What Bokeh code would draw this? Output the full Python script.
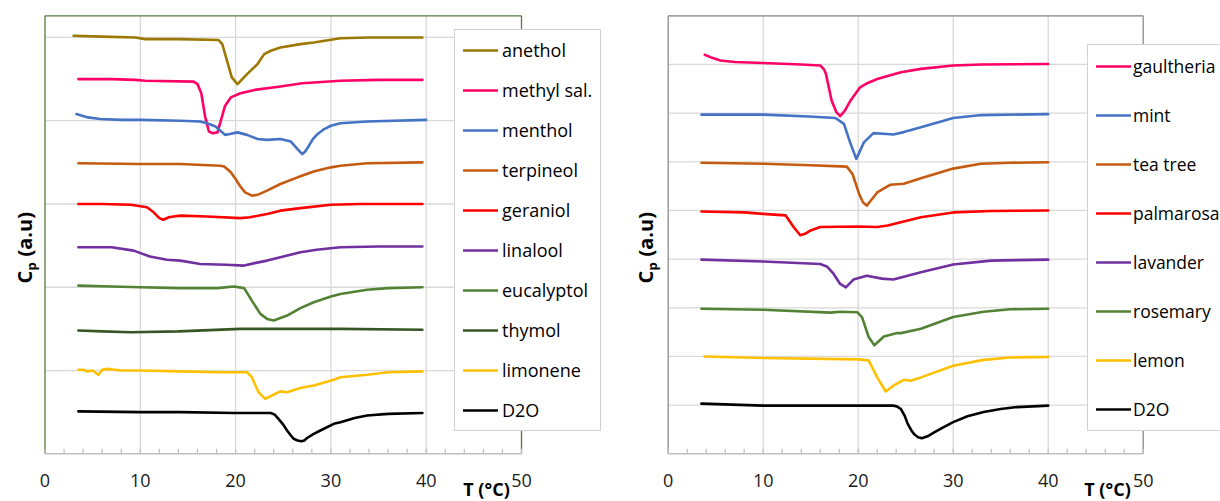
from math import pi

from bokeh.core.properties import value
from bokeh.embed import file_html
from bokeh.layouts import row
from bokeh.models import Label, Legend, LegendItem, Range1d
from bokeh.plotting import figure
from bokeh.resources import INLINE

# ---------------- left panel: pure compounds in D2O ----------------
anethol_t = [3.0, 6.0, 9.5, 10.5, 14.0, 18.2, 18.6, 19.1, 19.6, 20.2, 21.2, 22.3, 23.0, 23.7, 24.7, 26.8, 28.2, 31.0, 34.0, 39.6]
anethol_cp = [5.02, 5.01, 5.00, 4.98, 4.98, 4.97, 4.92, 4.72, 4.52, 4.44, 4.56, 4.68, 4.80, 4.84, 4.88, 4.92, 4.94, 4.99, 5.00, 5.00]

methyl_t = [3.5, 7.0, 9.5, 10.5, 15.6, 16.0, 16.4, 16.8, 17.2, 17.6, 18.1, 18.4, 18.9, 19.5, 20.5, 22.0, 24.7, 27.0, 31.0, 35.0, 39.6]
methyl_cp = [4.50, 4.50, 4.49, 4.48, 4.47, 4.44, 4.33, 4.05, 3.87, 3.85, 3.86, 3.98, 4.18, 4.28, 4.33, 4.37, 4.41, 4.45, 4.48, 4.49, 4.49]

menthol_t = [3.3, 4.5, 5.8, 8.0, 10.0, 14.2, 16.3, 17.0, 17.9, 18.4, 18.9, 19.4, 20.2, 21.2, 22.3, 23.3, 24.7, 25.8, 26.5, 27.0, 27.3, 27.7, 28.1, 28.6, 29.3, 30.0, 31.0, 33.8, 40.0]
menthol_cp = [4.08, 4.04, 4.02, 4.01, 4.01, 4.00, 3.99, 3.97, 3.93, 3.88, 3.83, 3.84, 3.86, 3.83, 3.78, 3.77, 3.78, 3.75, 3.66, 3.60, 3.63, 3.70, 3.78, 3.84, 3.90, 3.94, 3.97, 3.99, 4.01]

terpineol_t = [3.5, 10.0, 14.2, 18.4, 18.8, 19.5, 20.0, 20.5, 21.0, 21.7, 22.3, 23.3, 24.7, 26.5, 28.2, 30.0, 31.0, 33.8, 39.6]
terpineol_cp = [3.49, 3.48, 3.48, 3.46, 3.45, 3.38, 3.30, 3.21, 3.14, 3.10, 3.11, 3.16, 3.24, 3.32, 3.39, 3.44, 3.46, 3.49, 3.50]

geraniol_t = [3.5, 6.0, 9.0, 10.7, 11.4, 12.0, 12.4, 13.0, 13.5, 14.2, 17.0, 20.5, 21.5, 23.3, 24.7, 26.8, 30.0, 33.0, 39.6]
geraniol_cp = [3.00, 3.00, 2.99, 2.96, 2.90, 2.83, 2.81, 2.84, 2.85, 2.86, 2.85, 2.83, 2.84, 2.88, 2.92, 2.95, 2.99, 3.00, 3.00]

linalool_t = [3.5, 7.0, 9.3, 11.0, 12.8, 14.2, 16.3, 19.0, 20.9, 22.0, 23.3, 24.7, 26.8, 28.5, 31.0, 35.0, 39.6]
linalool_cp = [2.48, 2.48, 2.44, 2.37, 2.33, 2.32, 2.28, 2.27, 2.26, 2.29, 2.32, 2.36, 2.42, 2.45, 2.48, 2.49, 2.49]

eucalyptol_t = [3.5, 7.0, 10.0, 14.2, 18.1, 19.8, 20.9, 21.7, 22.6, 23.3, 24.0, 25.4, 26.8, 28.2, 30.0, 31.0, 33.8, 36.0, 39.6]
eucalyptol_cp = [2.02, 2.01, 2.00, 1.99, 1.99, 2.01, 1.99, 1.84, 1.68, 1.62, 1.60, 1.66, 1.75, 1.82, 1.89, 1.92, 1.97, 1.99, 2.00]

thymol_t = [3.5, 6.0, 9.0, 14.0, 20.5, 31.0, 39.6]
thymol_cp = [1.48, 1.47, 1.46, 1.47, 1.50, 1.50, 1.49]

limonene_t = [3.5, 4.0, 4.4, 5.0, 5.6, 6.0, 6.5, 8.0, 10.0, 14.2, 18.0, 21.2, 21.7, 22.4, 23.1, 23.8, 24.7, 25.4, 26.8, 28.2, 30.3, 31.0, 33.8, 36.0, 39.6]
limonene_cp = [1.01, 1.01, 0.99, 1.00, 0.95, 1.01, 1.02, 1.00, 1.00, 0.99, 0.98, 0.98, 0.92, 0.74, 0.66, 0.70, 0.75, 0.74, 0.79, 0.82, 0.89, 0.92, 0.95, 0.98, 0.99]

d2o_left_t = [3.5, 10.0, 14.2, 20.0, 23.7, 24.1, 24.5, 25.0, 25.4, 25.8, 26.1, 26.5, 26.9, 27.2, 27.5, 28.2, 28.9, 30.3, 31.0, 32.5, 33.8, 36.0, 39.6]
d2o_left_cp = [0.51, 0.50, 0.50, 0.49, 0.49, 0.47, 0.42, 0.35, 0.28, 0.22, 0.18, 0.16, 0.15, 0.16, 0.19, 0.24, 0.28, 0.36, 0.38, 0.43, 0.46, 0.48, 0.49]

left_names = ["anethol", "methyl sal.", "menthol", "terpineol", "geraniol",
              "linalool", "eucalyptol", "thymol", "limonene", "D2O"]
left_colors = ["#9c7800", "#ff0066", "#4472c4", "#c55a11", "#ff0000",
               "#7030a0", "#548235", "#375623", "#ffc000", "#000000"]
left_t = [anethol_t, methyl_t, menthol_t, terpineol_t, geraniol_t,
          linalool_t, eucalyptol_t, thymol_t, limonene_t, d2o_left_t]
left_cp = [anethol_cp, methyl_cp, menthol_cp, terpineol_cp, geraniol_cp,
           linalool_cp, eucalyptol_cp, thymol_cp, limonene_cp, d2o_left_cp]

# ---------------- right panel: essential oils in D2O ----------------
gaultheria_t = [3.85, 4.45, 5.5, 7.0, 10.0, 14.0, 16.0, 16.4, 16.6, 17.2, 17.7, 18.1, 18.6, 19.2, 20.2, 21.0, 22.0, 24.5, 26.6, 30.0, 33.0, 40.0]
gaultheria_cp = [8.20, 8.15, 8.08, 8.05, 8.03, 8.00, 7.98, 7.90, 7.81, 7.26, 7.02, 6.94, 7.05, 7.26, 7.53, 7.62, 7.70, 7.84, 7.91, 7.98, 8.00, 8.01]

mint_t = [3.5, 10.0, 14.8, 17.6, 18.5, 19.2, 19.8, 20.6, 21.6, 23.0, 23.7, 24.8, 26.6, 30.0, 33.0, 40.0]
mint_cp = [6.97, 6.97, 6.93, 6.90, 6.78, 6.37, 6.06, 6.40, 6.59, 6.57, 6.56, 6.61, 6.71, 6.90, 6.96, 6.98]

teatree_t = [3.5, 10.0, 15.0, 18.8, 19.4, 20.1, 20.5, 20.9, 21.4, 22.0, 23.4, 24.8, 26.6, 30.0, 32.9, 36.0, 40.0]
teatree_cp = [5.98, 5.96, 5.93, 5.90, 5.75, 5.34, 5.17, 5.10, 5.22, 5.37, 5.53, 5.55, 5.66, 5.86, 5.96, 5.98, 5.99]

palmarosa_t = [3.5, 8.0, 10.0, 12.35, 13.2, 13.9, 14.4, 15.0, 16.0, 20.0, 22.0, 23.1, 26.6, 30.0, 34.0, 40.0]
palmarosa_cp = [4.98, 4.96, 4.93, 4.90, 4.66, 4.49, 4.52, 4.59, 4.66, 4.67, 4.66, 4.69, 4.86, 4.96, 4.99, 5.00]

lavander_t = [3.5, 10.0, 16.0, 16.7, 17.4, 18.1, 18.7, 19.5, 20.9, 22.5, 23.7, 26.6, 30.0, 34.0, 40.0]
lavander_cp = [3.99, 3.95, 3.90, 3.85, 3.70, 3.49, 3.42, 3.58, 3.66, 3.60, 3.58, 3.73, 3.89, 3.97, 3.99]

rosemary_t = [3.5, 10.0, 17.1, 18.1, 19.9, 20.4, 21.1, 21.7, 22.7, 24.1, 24.5, 26.6, 30.0, 33.2, 36.0, 40.0]
rosemary_cp = [2.98, 2.96, 2.90, 2.92, 2.91, 2.81, 2.40, 2.23, 2.41, 2.48, 2.48, 2.57, 2.81, 2.92, 2.97, 2.98]

lemon_t = [3.8, 10.0, 20.0, 21.1, 22.0, 22.9, 23.7, 24.8, 25.5, 26.6, 30.0, 33.2, 36.0, 40.0]
lemon_cp = [2.00, 1.97, 1.94, 1.92, 1.57, 1.28, 1.40, 1.52, 1.50, 1.57, 1.81, 1.93, 1.98, 1.99]

d2o_right_t = [3.5, 10.0, 20.0, 23.7, 24.1, 24.5, 24.9, 25.2, 25.6, 25.9, 26.3, 26.7, 27.3, 28.0, 29.0, 30.0, 31.5, 33.2, 35.0, 36.7, 40.0]
d2o_right_cp = [1.03, 0.99, 0.99, 0.99, 0.97, 0.92, 0.78, 0.62, 0.48, 0.40, 0.34, 0.32, 0.36, 0.44, 0.55, 0.65, 0.77, 0.86, 0.92, 0.96, 0.99]

right_names = ["gaultheria", "mint", "tea tree", "palmarosa",
               "lavander", "rosemary", "lemon", "D2O"]
right_colors = ["#ff0066", "#4472c4", "#c55a11", "#ff0000",
                "#7030a0", "#548235", "#ffc000", "#000000"]
right_t = [gaultheria_t, mint_t, teatree_t, palmarosa_t,
           lavander_t, rosemary_t, lemon_t, d2o_right_t]
right_cp = [gaultheria_cp, mint_cp, teatree_cp, palmarosa_cp,
            lavander_cp, rosemary_cp, lemon_cp, d2o_right_cp]

x_ticks = [0, 10, 20, 30, 40, 50]
x_minor = list(range(0, 52, 2))
x_max = 50

FONT = "Open Sans"
FONT_V = value(FONT)
W, H = 610, 501
PLOT_TOP, PLOT_BOTTOM = 15.3, 453.3      # pixel rows of the plot box
AXIS_GRAY = "#bfbfbf"
GRID_GRAY = "#d9d9d9"


def add_text(p, x, y, text, size, angle=0.0, align="left"):
    p.add_layout(Label(x=x, y=y, x_units="screen", y_units="screen",
                       text=text, angle=angle, text_font=FONT,
                       text_font_style="bold", text_font_size=size,
                       text_color="#000000", text_align=align,
                       text_baseline="middle"))


def make_panel(names, colors, ts, cps, ymax, box_left, box_width, frame_color,
               legend_xy, legend_style, xlabel_x, ylabel_x):
    # the canvas is the whole drawing area; the plot box is drawn inside it
    sx = box_width / x_max
    sy = (PLOT_BOTTOM - PLOT_TOP) / ymax
    p = figure(width=W, height=H,
               x_range=Range1d(-box_left / sx, (W - box_left) / sx),
               y_range=Range1d(-(H - PLOT_BOTTOM) / sy, PLOT_BOTTOM / sy),
               x_axis_location=None, y_axis_location=None,
               min_border=0, output_backend="svg", toolbar_location=None)
    p.outline_line_color = None
    p.grid.visible = False
    p.background_fill_color = "white"
    p.border_fill_color = "white"

    # grid lines
    vg = x_ticks[1:-1]
    p.segment(x0=vg, y0=[0] * len(vg), x1=vg, y1=[ymax] * len(vg),
              line_color=GRID_GRAY, line_width=1.3)
    hg = list(range(1, int(ymax) + 1))
    p.segment(x0=[0] * len(hg), y0=hg, x1=[x_max] * len(hg), y1=hg,
              line_color=GRID_GRAY, line_width=1.3)

    # plot-box border: left, top, right
    p.segment(x0=[0, 0, x_max], y0=[0, ymax, 0], x1=[0, x_max, x_max],
              y1=[ymax, ymax, ymax], line_color=frame_color, line_width=1.3)

    # temperature axis: line, inward ticks, tick labels
    tick_len = 5 / sy
    p.segment(x0=x_minor, y0=[0] * len(x_minor), x1=x_minor,
              y1=[tick_len] * len(x_minor), line_color=AXIS_GRAY, line_width=1.2)
    p.segment(x0=[0], y0=[0], x1=[x_max], y1=[0],
              line_color=AXIS_GRAY, line_width=1.6)
    p.text(x=x_ticks, y=[-(480 - PLOT_BOTTOM) / sy] * len(x_ticks),
           text=[str(t) for t in x_ticks], text_font=FONT_V,
           text_font_size="18px", text_color="#1a1a1a",
           text_align="center", text_baseline="middle")

    renderers = []
    for t, cp, c in zip(ts, cps, colors):
        r = p.line(t, cp, line_color=c, line_width=2.6,
                   line_join="round", line_cap="round")
        renderers.append(r)

    items = [LegendItem(label=n, renderers=[r]) for n, r in zip(names, renderers)]
    legend = Legend(items=items, location=legend_xy,
                    label_text_font=FONT, label_text_color="#000000",
                    glyph_width=35, margin=0,
                    border_line_color="#a6a6a6", border_line_width=1.3,
                    background_fill_color="white", background_fill_alpha=1.0,
                    **legend_style)
    p.add_layout(legend)

    # axis titles
    add_text(p, xlabel_x, H - 488, "T (°C)", "18px", align="center")

    y0 = H - 283                     # bottom end of the rotated Cp title
    add_text(p, ylabel_x, y0, "C", "20px", angle=pi / 2)
    add_text(p, ylabel_x + 6, y0 + 13, "p", "13px", angle=pi / 2)
    add_text(p, ylabel_x, y0 + 27, "(a.u)", "20px", angle=pi / 2)
    return p


left_legend = dict(label_text_font_size="18px", glyph_height=24, label_height=24,
                   label_standoff=4, spacing=16, padding=8)
right_legend = dict(label_text_font_size="17.5px", glyph_height=26, label_height=26,
                    label_standoff=2, spacing=23, padding=8)

left = make_panel(left_names, left_colors, left_t, left_cp, 5.26,
                  44.5, 476.5, "#56783f", (454, 70), left_legend, 486, 24)
right = make_panel(right_names, right_colors, right_t, right_cp, 9.0,
                   57.7, 475.0, "#8c8c8c", (477, 70), right_legend, 497, 35)

layout = row(left, right, spacing=0)
open("out.html", "w").write(file_html(layout, INLINE))
